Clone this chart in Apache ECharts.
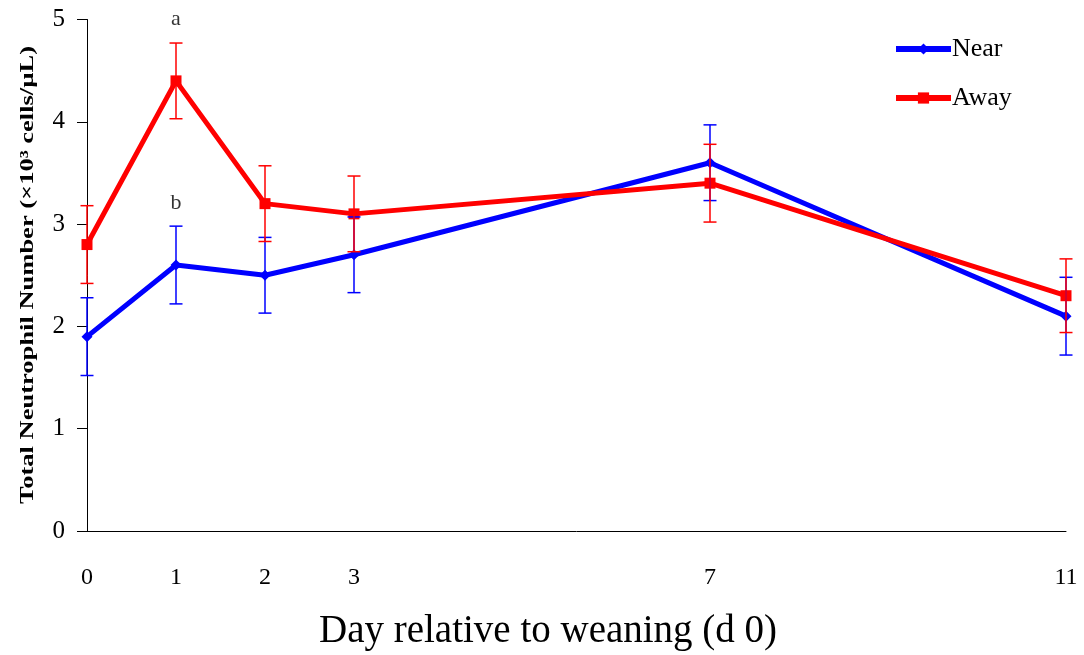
<!DOCTYPE html>
<html>
<head>
<meta charset="utf-8">
<script src="https://cdn.jsdelivr.net/npm/echarts@6/dist/echarts.min.js"></script>
<style>html,body{margin:0;padding:0;background:#fff}#c{width:1084px;height:655px}</style>
</head>
<body>
<div id="c"></div>
<script>
const days = [0, 1, 2, 3, 7, 11];
const xTickLabels = [0, 1, 2, 3, 7, 11];
const nearMean = [1.9, 2.6, 2.5, 2.7, 3.6, 2.1];
const nearErr = [0.38, 0.38, 0.37, 0.37, 0.37, 0.38];
const awayMean = [2.8, 4.4, 3.2, 3.1, 3.4, 2.3];
const awayErr = [0.38, 0.37, 0.37, 0.37, 0.38, 0.36];
const annotations = [[1, 5.0, 'a'], [1, 3.2, 'b']];
const yTitle = 'Total Neutrophil Number (×10³ cells/µL)';
const xTitle = 'Day relative to weaning (d 0)';

const FONT = '"Liberation Serif", "DejaVu Serif", serif';
const BLUE = '#0000ff', RED = '#ff0000';

// natural width of the y title, to stretch it along its length like the reference
const yTitleFont = 'bold 19px "Liberation Serif"';
const mctx = document.createElement('canvas').getContext('2d');
mctx.font = yTitleFont;
const yTitleW = mctx.measureText(yTitle).width;
const yTitleScale = 458 / yTitleW;

function errData(mean, err) {
  return days.map((d, i) => [d, mean[i] - err[i], mean[i] + err[i]]);
}
function errSeries(name, mean, err, color) {
  return {
    type: 'custom', name: name + '-err', silent: true, z: 5,
    data: errData(mean, err),
    encode: { x: 0, y: [1, 2] },
    renderItem: function (params, api) {
      const lo = api.coord([api.value(0), api.value(1)]);
      const hi = api.coord([api.value(0), api.value(2)]);
      const w = 6.5;
      const st = { stroke: color, lineWidth: 1.5 };
      return { type: 'group', children: [
        { type: 'line', shape: { x1: lo[0], y1: lo[1], x2: hi[0], y2: hi[1] }, style: st },
        { type: 'line', shape: { x1: lo[0] - w, y1: lo[1], x2: lo[0] + w, y2: lo[1] }, style: st },
        { type: 'line', shape: { x1: hi[0] - w, y1: hi[1], x2: hi[0] + w, y2: hi[1] }, style: st }
      ]};
    }
  };
}

const chart = echarts.init(document.getElementById('c'), null, { renderer: 'canvas' });
chart.setOption({
  backgroundColor: '#fff',
  animation: false,
  textStyle: { fontFamily: FONT },
  title: {
    text: xTitle,
    left: 319, top: 612, padding: 0,
    textStyle: { fontFamily: FONT, fontSize: 39, fontWeight: 'normal', color: '#000' }
  },
  graphic: [{
    type: 'text', x: 28, y: 275, rotation: Math.PI / 2, scaleX: yTitleScale, scaleY: 1,
    style: {
      text: yTitle, font: yTitleFont, fill: '#000',
      align: 'center', verticalAlign: 'middle'
    }
  }],
  legend: {
    orient: 'vertical', left: 893, top: 36, padding: 0,
    itemWidth: 55, itemHeight: 14, itemGap: 23,
    data: ['Near', 'Away'],
    lineStyle: { width: 6 },
    textStyle: { fontFamily: FONT, fontSize: 26, color: '#000', padding: [0, 0, 0, -4] }
  },
  grid: { left: 87, right: 18, top: 19.5, bottom: 124, containLabel: false },
  xAxis: {
    type: 'value', min: 0, max: 11, interval: 1,
    axisLine: { show: true, lineStyle: { color: '#000', width: 1 } },
    axisTick: { show: false },
    splitLine: { show: false },
    axisLabel: {
      margin: 35, fontFamily: FONT, fontSize: 24, color: '#000',
      formatter: v => xTickLabels.indexOf(v) >= 0 ? String(v) : ''
    }
  },
  yAxis: {
    type: 'value', min: 0, max: 5, interval: 1,
    axisLine: { show: true, lineStyle: { color: '#000', width: 1 } },
    axisTick: { show: true, inside: false, length: 10, lineStyle: { color: '#000' } },
    splitLine: { show: false },
    axisLabel: { margin: 22, fontFamily: FONT, fontSize: 25, color: '#000' }
  },
  series: [
    {
      name: 'Near', type: 'line', z: 3,
      data: days.map((d, i) => [d, nearMean[i]]),
      symbol: 'diamond', symbolSize: 11, showSymbol: true,
      lineStyle: { color: BLUE, width: 5 },
      itemStyle: { color: BLUE }
    },
    {
      name: 'Away', type: 'line', z: 4,
      data: days.map((d, i) => [d, awayMean[i]]),
      symbol: 'rect', symbolSize: 11, showSymbol: true,
      lineStyle: { color: RED, width: 5 },
      itemStyle: { color: RED }
    },
    errSeries('Near', nearMean, nearErr, BLUE),
    errSeries('Away', awayMean, awayErr, RED),
    {
      type: 'scatter', name: 'annot', silent: true, clip: false,
      data: annotations, symbolSize: 0,
      label: {
        show: true, position: 'inside', formatter: p => p.data[2],
        fontFamily: FONT, fontSize: 22, color: '#000'
      }
    }
  ]
});
</script>
</body>
</html>
